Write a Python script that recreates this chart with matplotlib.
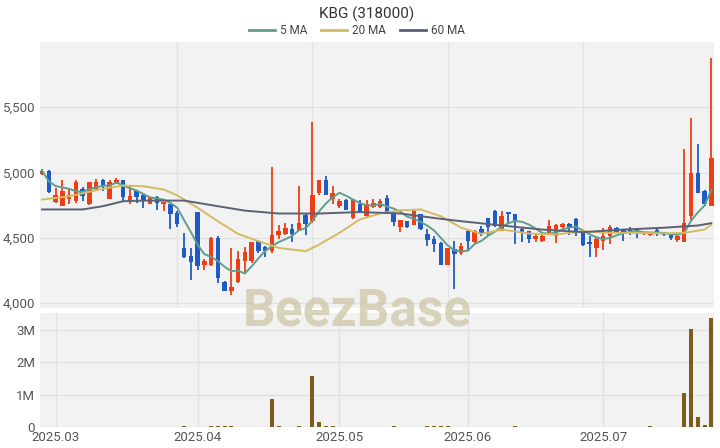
import numpy as np
import pandas as pd
import matplotlib
matplotlib.use('Agg')
import matplotlib.pyplot as plt
from matplotlib.lines import Line2D

plt.rcParams['font.family'] = ['Roboto', 'DejaVu Sans']

# ── data ───────────────────────────────────────────────────────────────────
opens = [4990, 5015, 4775, 4740, 4800, 4780, 4870, 4760, 4870, 4945,
         4800, 4915, 4940, 4780, 4855, 4830, 4760, 4815, 4755, 4755,
         4690, 4425, 4360, 4695, 4290, 4290, 4500, 4160, 4090, 4160,
         4320, 4320, 4475, 4430, 4400, 4525, 4530, 4570, 4555, 4675,
         4630, 4840, 4945, 4800, 4740, 4790, 4650, 4760, 4665, 4735,
         4735, 4805, 4690, 4580, 4625, 4600, 4680, 4530, 4490, 4460,
         4295, 4415, 4380, 4555, 4470, 4565, 4650, 4705, 4555, 4695,
         4680, 4570, 4550, 4490, 4478, 4535, 4515, 4580, 4605, 4645,
         4535, 4470, 4425, 4475, 4515, 4575, 4558, 4560, 4570, 4528,
         4525, 4560, 4540, 4525, 4480, 4470, 4665, 5000, 4855, 4745]
highs = [5030, 5020, 4885, 4945, 4880, 4940, 4890, 4930, 4950, 4950,
         4940, 4960, 4945, 4895, 4860, 4845, 4815, 4820, 4775, 4760,
         4705, 4533, 4425, 4700, 4335, 4505, 4512, 4170, 4425, 4400,
         4430, 4470, 4480, 4440, 5040, 4600, 4610, 4605, 4900, 4680,
         5385, 4945, 4977, 4900, 4800, 4795, 4800, 4790, 4790, 4795,
         4795, 4830, 4695, 4640, 4630, 4710, 4685, 4570, 4510, 4465,
         4425, 4475, 4460, 4560, 4560, 4590, 4655, 4710, 4705, 4700,
         4685, 4580, 4555, 4530, 4520, 4640, 4605, 4615, 4610, 4650,
         4540, 4510, 4495, 4577, 4600, 4580, 4565, 4580, 4575, 4545,
         4545, 4565, 4545, 4530, 4520, 5180, 5420, 5220, 4865, 5880]
lows = [4980, 4845, 4770, 4740, 4755, 4770, 4780, 4750, 4860, 4860,
        4795, 4910, 4780, 4755, 4770, 4725, 4755, 4710, 4705, 4570,
        4580, 4345, 4180, 4255, 4255, 4280, 4150, 4090, 4065, 4155,
        4240, 4310, 4385, 4350, 4380, 4490, 4520, 4470, 4550, 4525,
        4610, 4830, 4830, 4760, 4730, 4710, 4645, 4690, 4660, 4725,
        4725, 4690, 4590, 4545, 4575, 4595, 4560, 4435, 4390, 4290,
        4290, 4105, 4370, 4397, 4450, 4510, 4515, 4585, 4550, 4615,
        4450, 4465, 4462, 4470, 4465, 4530, 4460, 4560, 4525, 4512,
        4440, 4355, 4355, 4405, 4456, 4545, 4475, 4520, 4500, 4520,
        4510, 4510, 4510, 4480, 4470, 4465, 4640, 4840, 4742, 4740]
closes = [5015, 4850, 4825, 4855, 4830, 4925, 4820, 4925, 4930, 4895,
          4925, 4945, 4810, 4820, 4810, 4790, 4815, 4770, 4775, 4685,
          4605, 4350, 4315, 4285, 4320, 4500, 4190, 4095, 4120, 4335,
          4390, 4465, 4400, 4400, 4520, 4550, 4575, 4530, 4610, 4605,
          4830, 4940, 4830, 4845, 4780, 4712, 4795, 4700, 4755, 4770,
          4780, 4695, 4620, 4635, 4580, 4705, 4565, 4480, 4450, 4295,
          4420, 4375, 4440, 4475, 4555, 4535, 4580, 4590, 4670, 4680,
          4625, 4545, 4490, 4515, 4510, 4590, 4600, 4605, 4585, 4545,
          4445, 4455, 4490, 4515, 4585, 4548, 4540, 4545, 4540, 4538,
          4540, 4540, 4525, 4495, 4515, 4615, 5000, 4845, 4760, 5110]
volumes = [12000, 8000, 9000, 7000, 10000, 6000, 9000, 11000, 8000, 7000,
           9000, 10000, 8000, 6000, 12000, 9000, 7000, 8000, 10000, 12000,
           14000, 16000, 12000, 15000, 10000, 22000, 28000, 18000, 20000, 9000,
           8000, 10000, 9000, 12000, 880000, 20000, 15000, 12000, 40000, 12000,
           1590000, 140000, 45000, 25000, 15000, 12000, 10000, 14000, 11000, 9000,
           10000, 12000, 18000, 9000, 8000, 10000, 12000, 20000, 25000, 30000,
           22000, 15000, 9000, 10000, 8000, 12000, 9000, 10000, 12000, 9000,
           28000, 12000, 10000, 9000, 8000, 10000, 9000, 7000, 8000, 9000,
           10000, 8000, 9000, 10000, 14000, 8000, 9000, 7000, 8000, 10000,
           16000, 9000, 8000, 10000, 12000, 1060000, 3030000, 300000, 70000, 3390000]

ma20_x = [0, 4, 9, 12, 15, 18, 20, 23, 26, 29, 32, 35, 39, 41, 44, 47, 50,
          53, 56, 59, 62, 65, 68, 72, 76, 80, 84, 88, 92, 95, 98, 99]
ma20_y = [4793, 4818, 4875, 4900, 4895, 4870, 4825, 4730, 4627, 4530, 4474,
          4423, 4397, 4448, 4538, 4640, 4686, 4711, 4717, 4665, 4577, 4530,
          4563, 4533, 4525, 4550, 4538, 4538, 4533, 4538, 4563, 4600]
ma60_x = [0, 6, 9, 12, 15, 21, 23, 26, 30, 35, 41, 47, 53, 59, 62, 68, 74,
          80, 86, 92, 97, 99]
ma60_y = [4717, 4717, 4742, 4780, 4785, 4785, 4768, 4742, 4708, 4686, 4686,
          4697, 4686, 4645, 4627, 4594, 4563, 4543, 4563, 4577, 4594, 4612]

price_ticks = [4000, 4500, 5000, 5500]
price_grid_x = [20, 40, 60, 80]
month_ticks = [2, 23, 44, 63, 83]
month_labels = ['2025.03', '2025.04', '2025.05', '2025.06', '2025.07']
vol_ticks = [0, 1e6, 2e6, 3e6]
vol_labels = ['0', '1M', '2M', '3M']

# ── styles ─────────────────────────────────────────────────────────────────
UP, DOWN = '#ee3e16', '#1f5bc6'
C_MA5, C_MA20, C_MA60 = '#5f9e8c', '#d4bb62', '#5b6174'
VOL = '#7b5c1a'
BG, GRID, TXT = '#f2f2f2', '#e2e2e2', '#555555'

x = np.arange(len(closes))
o, h, l, c = map(np.array, (opens, highs, lows, closes))
up = c >= o
colors = np.where(up, UP, DOWN)
ma5 = pd.Series(closes).rolling(5, min_periods=1).mean()

fig = plt.figure(figsize=(7.2, 4.48), dpi=100)
ax_p = fig.add_axes([40/720, 1 - 308/448, 674/720, 266/448])
ax_v = fig.add_axes([40/720, 1 - 427/448, 674/720, 114/448])

for ax in (ax_p, ax_v):
    ax.set_facecolor(BG)
    for s in ax.spines.values():
        s.set_visible(False)
    ax.tick_params(length=0, colors=TXT, labelsize=9.5)
    ax.set_xlim(-0.3, 99.4)

# ── price panel ────────────────────────────────────────────────────────────
ax_p.set_ylim(3962, 6000)
ax_p.set_yticks(price_ticks)
ax_p.set_yticklabels([f'{t:,}' for t in price_ticks])
ax_p.set_xticks(price_grid_x)
ax_p.set_xticklabels([])
ax_p.grid(True, color=GRID, lw=0.9)
ax_p.set_axisbelow(True)

ax_p.vlines(x, l, h, colors=colors, lw=1.3, zorder=2)
body = np.maximum(np.abs(c - o), 8)
ax_p.bar(x, body, bottom=np.minimum(o, c), width=0.66, color=colors, zorder=3)

ax_p.plot(x, ma5, color=C_MA5, lw=1.4, zorder=4)
ax_p.plot(ma20_x, ma20_y, color=C_MA20, lw=1.4, zorder=4)
ax_p.plot(ma60_x, ma60_y, color=C_MA60, lw=1.4, zorder=4)

# ── volume panel ───────────────────────────────────────────────────────────
ax_v.set_ylim(0, 3.53e6)
ax_v.set_yticks(vol_ticks)
ax_v.set_yticklabels(vol_labels)
ax_v.set_xticks(month_ticks)
ax_v.set_xticklabels(month_labels)
ax_v.tick_params(axis='x', pad=3)
ax_v.grid(True, color=GRID, lw=0.9)
ax_v.set_axisbelow(True)
ax_v.bar(x, volumes, width=0.6, color=VOL, zorder=3)
ax_v.axhline(0, color='#cccccc', lw=0.8, zorder=2)

# ── title, legend, watermark ───────────────────────────────────────────────
fig.text(367/720, 1 - 14/448, 'KBG (318000)', ha='center', va='center',
         fontsize=11, color='#333333')
handles = [Line2D([], [], color=C_MA5, lw=2),
           Line2D([], [], color=C_MA20, lw=2),
           Line2D([], [], color=C_MA60, lw=2)]
fig.legend(handles, ['5 MA', '20 MA', '60 MA'], loc='center',
           bbox_to_anchor=(357/720, 1 - 31/448), ncol=3, frameon=False,
           fontsize=8.5, handlelength=2.2, handletextpad=0.4, columnspacing=1.2,
           labelcolor='#444444')
fig.text(357/720, 1 - 311/448, 'BeezBase', ha='center', va='center',
         fontsize=37, fontweight='bold', color='#cfc6a6', alpha=0.75)

fig.savefig('out.png', dpi=100)
